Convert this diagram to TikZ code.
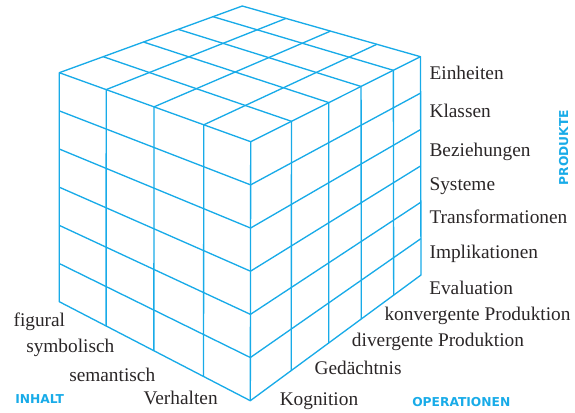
\documentclass[tikz,border=0pt]{standalone}
\usepackage{fontspec}
\setmainfont{Liberation Serif}
\newfontfamily\headfont{DejaVu Sans}
\usetikzlibrary{calc}
\definecolor{sky}{HTML}{18ABE8}
\definecolor{ink}{HTML}{2A2627}
\tikzset{
  grid line/.style={sky,line width=1pt,line join=round},
  item/.style={anchor=base west,inner sep=0pt,text=ink,
    font=\fontsize{14.5}{17}\selectfont},
  axis name/.style={inner sep=0pt,text=sky,
    font=\headfont\bfseries\fontsize{9.2}{11}\selectfont}
}

\begin{document}
\begin{tikzpicture}[x=0.75pt,y=-0.75pt]
    \useasboundingbox (0,0) rectangle (575,412);
    % corners of the cube
    \coordinate (L)  at (59.3,72.7);
    \coordinate (B)  at (242.3,6);
    \coordinate (R)  at (420.5,56.7);
    \coordinate (F)  at (250.7,141.7);
    \coordinate (LB) at (59.3,301.7);
    \coordinate (FB) at (250.3,400.7);
    \coordinate (RB) at (421,275);
    % rows of both side faces
    \foreach \k in {1,...,5} {
      \draw[grid line] ($(L)!\k/6!(LB)$) -- ($(F)!\k/6!(FB)$) -- ($(R)!\k/6!(RB)$);
    }
    % columns: content
    \foreach \t in {0.245,0.495,0.755} {
      \draw[grid line] ($(LB)!\t!(FB)$) -- ($(L)!\t!(F)$) -- ($(B)!\t!(R)$);
    }
    % columns: operations
    \foreach \t in {0.24,0.46,0.65,0.84} {
      \draw[grid line] ($(L)!\t!(B)$) -- ($(F)!\t!(R)$) -- ($(FB)!\t!(RB)$);
    }
    \draw[grid line] (L) -- (B) -- (R) -- (RB) -- (FB) -- (LB) -- cycle;
    \draw[grid line] (L) -- (F) -- (R);
    \draw[grid line] (F) -- (FB);
    % products
    \foreach \txt/\y [count=\i] in {Einheiten/79.5,Klassen/117.7,Beziehungen/156,
        Systeme/190,Transformationen/223.3,Implikationen/258} {
      \node[item] (prod\i) at (429.3,\y) {\txt};
    }
    % operations
    \node[item] (op1) at (279.5,405)   {Kognition};
    \node[item] (op2) at (314.3,374)   {Gedächtnis};
    \node[item] (op3) at (351.7,346)   {divergente Produktion};
    \node[item] (op4) at (384.3,320)   {konvergente Produktion};
    \node[item] (op5) at (429,294.3)   {Evaluation};
    % content
    \node[item] (con1) at (13.3,326)   {figural};
    \node[item] (con2) at (26,352.7)   {symbolisch};
    \node[item] (con3) at (69,381)     {semantisch};
    \node[item] (con4) at (143.3,404.3) {Verhalten};
    % axis names
    \node[axis name,anchor=base west] (inhalt) at (15,403) {INHALT};
    \node[axis name,anchor=base west] (operationen) at (412,406) {OPERATIONEN};
    \node[axis name,anchor=base,rotate=90] (produkte) at (568,147.5) {PRODUKTE};
  \end{tikzpicture}
\end{document}
